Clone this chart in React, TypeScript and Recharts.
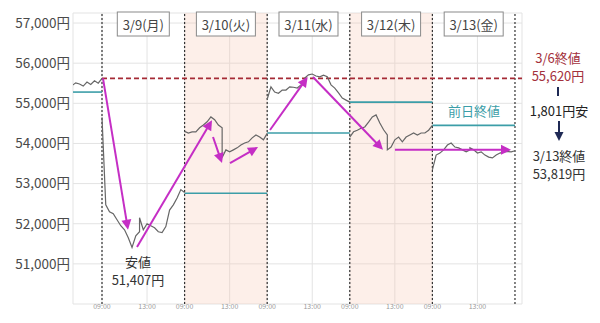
import React from 'react';
import { LineChart, Line, XAxis, YAxis, CartesianGrid, ReferenceLine, ReferenceArea } from 'recharts';

// 15-minute samples, lunch break (11:30-12:30) excluded
const sessionTimes = ['09:00', '09:15', '09:30', '09:45', '10:00', '10:15', '10:30', '10:45', '11:00', '11:15', '11:30',
  '12:30', '12:45', '13:00', '13:15', '13:30', '13:45', '14:00', '14:15', '14:30', '14:45', '15:00', '15:15', '15:30'];

const days = ['3/9(月)', '3/10(火)', '3/11(水)', '3/12(木)', '3/13(金)'];

// tail of 3/6
const prevTimes = ['13:30', '13:45', '14:00', '14:15', '14:30', '14:45', '15:00', '15:15', '15:30'];
const prices0306 = [55440, 55510, 55480, 55430, 55530, 55470, 55560, 55500, 55620];

const prices0309 = [54650, 52470, 52300, 52250, 52100, 51950, 51850, 51650, 51407, 51700, 51800,
  52150, 51850, 52000, 51950, 51900, 51800, 51780, 51930, 52340, 52470, 52640, 52850, 52780];
const prices0310 = [54300, 54260, 54290, 54290, 54390, 54460, 54540, 54660, 54590, 54460, 54390,
  53650, 53840, 53790, 53840, 53890, 53960, 54010, 54040, 54140, 54210, 54160, 54090, 54250];
const prices0311 = [55100, 55410, 55280, 55250, 55330, 55330, 55410, 55400, 55380, 55460, 55530,
  55630, 55710, 55730, 55680, 55660, 55700, 55660, 55460, 55380, 55260, 55130, 55080, 55030];
const prices0312 = [54160, 54290, 54330, 54380, 54410, 54530, 54660, 54710, 54510, 54340, 54210,
  53840, 53910, 54090, 54160, 54040, 54160, 54210, 54260, 54210, 54260, 54260, 54330, 54450];
const prices0313 = [53340, 53710, 53760, 53840, 53960, 54010, 53910, 53890, 53840, 53790, 53840,
  53890, 53840, 53760, 53790, 53710, 53660, 53640, 53710, 53760, 53790, 53800, 53790, 53819];

// 前日終値 for the 3/6 tail, then 3/10..3/13 (3/9 uses the 3/6 close line)
const prevClose0306 = 55280;
const prevCloses = [null, 52760, 54260, 55030, 54450];
const close0306 = 55620;

const yTicks = [51000, 52000, 53000, 54000, 55000, 56000, 57000];

// arrows in (day position, price)
const arrows = [
  [0.012, 55620, 0.315, 51850],
  [0.424, 51420, 1.332, 54580],
  [1.344, 54160, 1.453, 53510],
  [1.55, 53510, 1.889, 53910],
  [2.034, 54335, 2.49, 55655],
  [2.554, 55656, 3.402, 53840],
  [3.547, 53840, 4.952, 53840],
];

const tradingMin = (t: string) => {
  const [h, m] = t.split(':').map(Number);
  return h < 12 ? (h - 9) * 60 + m : 150 + (h - 12) * 60 + m - 30;
};
const toX = (day: number, t: string) => day + tradingMin(t) / 330;

const dayPrices = [prices0309, prices0310, prices0311, prices0312, prices0313];
const rows: { x: number; price: number | null }[] = [];
prevTimes.forEach((t, i) => rows.push({ x: toX(-1, t), price: prices0306[i] }));
dayPrices.forEach((arr, d) => {
  rows.push({ x: d, price: null });
  sessionTimes.forEach((t, i) => rows.push({ x: toX(d, t), price: arr[i] }));
});

const xTicks: number[] = [];
for (let d = 0; d < 5; d++) { xTicks.push(d); xTicks.push(toX(d, '13:00')); }

const FONT = '"Noto Sans CJK JP", "Noto Sans", sans-serif';
const MAGENTA = '#c52ec5';
const TEAL = '#3c9ea8';

const arrowShape = (color: string) => (p: any) => {
  const { x1, y1, x2, y2 } = p;
  const len = Math.hypot(x2 - x1, y2 - y1) || 1;
  const ux = (x2 - x1) / len, uy = (y2 - y1) / len;
  const hl = 10, hw = 5;
  const bx = x2 - ux * hl, by = y2 - uy * hl;
  return (
    <g>
      <line x1={x1} y1={y1} x2={x2 - ux * 6} y2={y2 - uy * 6} stroke={color} strokeWidth={2} />
      <polygon points={`${x2},${y2} ${bx - uy * hw},${by + ux * hw} ${bx + uy * hw},${by - ux * hw}`} fill={color} />
    </g>
  );
};

const dateBox = (label: string) => (p: any) => {
  const vb = p.viewBox || {};
  const w = label.length > 6 ? 59 : 52;
  return (
    <g>
      <rect x={vb.x - w / 2} y={vb.y - 1} width={w} height={24} fill="#fff" stroke="#8a8a8a" strokeWidth={1} />
      <text x={vb.x} y={vb.y + 11} textAnchor="middle" dominantBaseline="central" fontSize={13} fill="#444" fontFamily={FONT}>{label}</text>
    </g>
  );
};

export default function App() {
  return (
    <div style={{ position: 'absolute', left: 0, top: 0, width: 600, height: 323, background: '#fff', fontFamily: FONT }}>
      <LineChart width={600} height={323} data={rows} margin={{ top: 13, right: 78, bottom: 5, left: 0 }}>
        <ReferenceArea x1={1} x2={2} fill="#f7c4b0" fillOpacity={0.28} stroke="none" />
        <ReferenceArea x1={3} x2={4} fill="#f7c4b0" fillOpacity={0.28} stroke="none" />
        <CartesianGrid stroke="#e3e3e3" />
        <XAxis type="number" dataKey="x" domain={[-0.3511, 5.085]} ticks={xTicks} allowDataOverflow interval={0}
          tickFormatter={(v: number) => (Number.isInteger(v) ? '09:00' : '13:00')}
          axisLine={false} tickLine={false} tickSize={0} tickMargin={0} height={14}
          tick={{ fontSize: 7, fill: '#9a9a9a', fontFamily: FONT }} />
        <YAxis domain={[50000, 57250]} ticks={yTicks} allowDataOverflow width={73}
          tickFormatter={(v: number) => v.toLocaleString('en-US') + '円'}
          axisLine={false} tickLine={false} tickSize={0} tickMargin={3}
          tick={{ fontSize: 13.5, fill: '#4a4a4a', fontFamily: FONT }} />
        {[0, 1, 2, 3, 4, 5].map((d) => (
          <ReferenceLine key={'sep' + d} x={d} stroke="#333" strokeDasharray="2 2" strokeWidth={1.2} />
        ))}
        <ReferenceLine segment={[{ x: -0.3511, y: prevClose0306 }, { x: 0, y: prevClose0306 }]} stroke={TEAL} strokeWidth={1.6} ifOverflow="visible" />
        {prevCloses.map((v, d) => v === null ? null : (
          <ReferenceLine key={'pc' + d} segment={[{ x: d, y: v }, { x: d + 1, y: v }]} stroke={TEAL} strokeWidth={1.6} ifOverflow="visible" />
        ))}
        <ReferenceLine segment={[{ x: 0, y: close0306 }, { x: 5.085, y: close0306 }]} stroke="#a52a35" strokeWidth={1.6} strokeDasharray="5 3" ifOverflow="visible" />
        <Line type="linear" dataKey="price" stroke="#666" strokeWidth={1.2} dot={false} activeDot={false}
          connectNulls={false} isAnimationActive={false} />
        {arrows.map((a, i) => (
          <ReferenceLine key={'ar' + i} segment={[{ x: a[0], y: a[1] }, { x: a[2], y: a[3] }]} ifOverflow="visible"
            shape={arrowShape(MAGENTA)} />
        ))}
        {days.map((lab, d) => (
          <ReferenceLine key={'lab' + d} x={d + 0.5} stroke="none" label={{ content: dateBox(lab) }} />
        ))}
      </LineChart>
      <svg width={600} height={323} style={{ position: 'absolute', left: 0, top: 0, pointerEvents: 'none' }} fontFamily={FONT}>
        <g fontSize={13} textAnchor="middle" dominantBaseline="central">
          <text x={138} y={261} fill="#333">安値</text>
          <text x={138} y={279} fill="#333">51,407円</text>
          <text x={474} y={110} fill={TEAL}>前日終値</text>
          <text x={558} y={57} fill="#a3303c">3/6終値</text>
          <text x={558} y={75} fill="#a3303c">55,620円</text>
          <text x={559} y={110} fill="#222">1,801円安</text>
          <text x={559} y={155} fill="#333">3/13終値</text>
          <text x={559} y={173} fill="#333">53,819円</text>
        </g>
        <line x1={558} y1={87} x2={558} y2={96} stroke="#1f2a55" strokeWidth={2} />
        <line x1={559} y1={121} x2={559} y2={133} stroke="#1f2a55" strokeWidth={2} />
        <polygon points="559,141 554.5,132 563.5,132" fill="#1f2a55" />
      </svg>
    </div>
  );
}
